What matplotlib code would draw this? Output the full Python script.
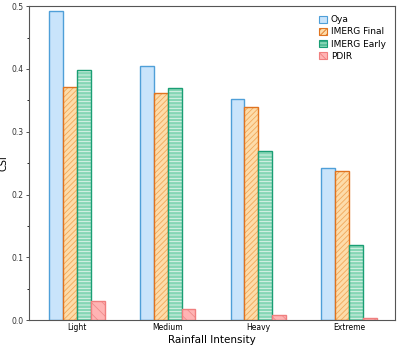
import numpy as np
import matplotlib.pyplot as plt
from matplotlib.patches import Patch
from matplotlib.ticker import MultipleLocator

categories = ['Light', 'Medium', 'Heavy', 'Extreme']
oya = [0.493, 0.404, 0.353, 0.243]
imerg_final = [0.372, 0.361, 0.340, 0.238]
imerg_early = [0.398, 0.370, 0.270, 0.120]
pdir = [0.031, 0.017, 0.009, 0.003]

series = [
    ('Oya', oya, '#c9e4fb', '#c9e4fb', '', '#4f9fd8'),
    ('IMERG Final', imerg_final, '#fddcaa', '#f2a85a', '//////', '#e0731f'),
    ('IMERG Early', imerg_early, '#86d6b5', '#e6f7ef', '-----', '#1a9e74'),
    ('PDIR', pdir, '#ffb4b4', '#ef8c8c', '\\\\\\', '#f07f7f'),
]

plt.rcParams['hatch.linewidth'] = 0.6

fig, ax = plt.subplots(figsize=(3.99, 3.45), dpi=100)
fig.subplots_adjust(left=0.073, right=0.99, top=0.982, bottom=0.072)

x = np.arange(len(categories))
w = 0.153
handles = []
for i, (name, vals, face, hcol, hatch, edge) in enumerate(series):
    pos = x + (i - 1.5) * w
    ax.bar(pos, vals, w, color=face, edgecolor=hcol, hatch=hatch, linewidth=0)
    ax.bar(pos, vals, w, fill=False, edgecolor=edge, linewidth=1.0)
    handles.append(Patch(facecolor=face, edgecolor=edge, hatch=hatch, linewidth=0.8, label=name))

ax.set_xlim(-0.53, 3.51)
ax.set_ylim(0, 0.5)
ax.set_xticks(x)
ax.set_xticklabels(categories, fontsize=5.5)
ax.yaxis.set_major_locator(MultipleLocator(0.1))
ax.yaxis.set_minor_locator(MultipleLocator(0.05))
ax.tick_params(axis='y', labelsize=5.5, length=2.5, width=0.6, colors='#333333', pad=1.5)
ax.tick_params(axis='y', which='minor', length=1.5, width=0.6)
ax.tick_params(axis='x', length=0, pad=2)
ax.set_ylabel('CSI', fontsize=7, labelpad=2)
ax.set_xlabel('Rainfall Intensity', fontsize=7.5, labelpad=2)
for s in ax.spines.values():
    s.set_color('#555555')
    s.set_linewidth(0.8)

ax.legend(handles=handles, loc='upper right', fontsize=6.5, frameon=False,
          handlelength=0.9, handleheight=0.8, handletextpad=0.4, labelspacing=0.35,
          borderaxespad=0.6)

fig.savefig('out.png', dpi=100)
